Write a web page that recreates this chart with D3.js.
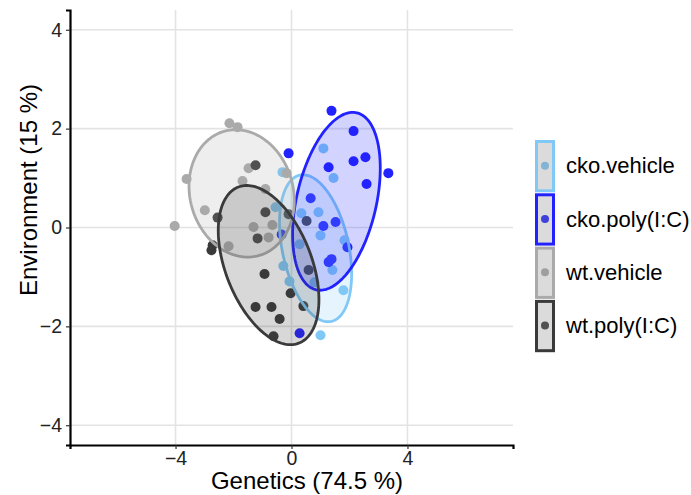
<!DOCTYPE html>
<html>
<head>
<meta charset="utf-8">
<script src="https://cdn.jsdelivr.net/npm/d3@7"></script>
<style>
  body { margin: 0; background: #fff; }
  svg { display: block; font-family: "Liberation Sans", Arial, sans-serif; }
</style>
</head>
<body>
<div id="chart"></div>
<script>
// PCA-style scatter: four groups with confidence ellipses.

const groups = ["cko.vehicle", "cko.poly(I:C)", "wt.vehicle", "wt.poly(I:C)"];
const groupColors = ["#80C9F7", "#2222FF", "#AAAAAA", "#3A3A3A"];

const xTicks = [-4, 0, 4];
const yTicks = [-4, -2, 0, 2, 4];

// points [x, y] per group
const ckoVehicle = [
  [1.10, 1.60], [1.45, 1.00], [-0.31, 1.12], [-0.55, 0.41], [0.34, 0.29],
  [0.93, 0.31], [1.00, -0.16], [0.28, -0.34], [-0.28, -0.78], [-0.07, -1.09],
  [0.79, -1.11], [1.41, -0.86], [1.83, -0.26], [1.79, -1.27], [1.00, -2.18]
];
const ckoPoly = [
  [-0.10, 1.50], [1.38, 2.36], [2.14, 1.95], [2.14, 1.34], [2.55, 1.42],
  [3.34, 1.10], [2.59, 0.88], [1.28, 1.22], [0.66, 0.59], [1.10, 0.03],
  [1.52, 0.11], [-0.34, -0.14], [1.28, -0.70], [1.38, -0.64], [1.93, -0.40],
  [0.28, -2.14]
];
const wtVehicle = [
  [-2.14, 2.11], [-1.86, 2.03], [-3.62, 0.98], [-4.03, 0.03], [-2.99, 0.35],
  [-1.69, 0.94], [-1.48, 1.20], [-0.17, 1.10], [-0.90, 0.78], [-1.31, 0.01],
  [-0.66, 0.05], [-0.79, -0.20], [-2.17, -0.38]
];
const wtPoly = [
  [-1.24, 1.26], [-2.55, 0.20], [-2.72, -0.36], [-2.76, -0.46], [-0.90, 0.31],
  [-1.17, -0.22], [-0.10, 0.27], [0.52, 0.13], [-0.93, -0.94], [0.59, -0.86],
  [-1.24, -1.61], [-0.69, -1.61], [-0.41, -1.85], [-0.62, -2.20], [-0.03, -1.33],
  [0.41, -1.59]
];
const groupPoints = [ckoVehicle, ckoPoly, wtVehicle, wtPoly];

// ellipses: centre and two semi-axis vectors, in data units
const ellipseCenter = [[0.83, -0.42], [1.55, 0.53], [-1.72, 0.69], [-0.79, -0.76]];
const ellipseAxisA  = [[-0.54, 1.48], [0.70, 1.79], [-0.58, 1.26], [-1.04, 1.58]];
const ellipseAxisB  = [[1.12, 0.14], [1.34, -0.18], [1.72, 0.27], [1.39, 0.31]];

const W = 691, H = 495;
const margin = { top: 10, right: 178, bottom: 50, left: 70 };

const svg = d3.select("#chart").append("svg").attr("width", W).attr("height", H);

const x = d3.scaleLinear().domain([-7.64, 7.64]).range([margin.left, W - margin.right]);
const y = d3.scaleLinear().domain([-4.4, 4.4]).range([H - margin.bottom, margin.top]);

// grid
const gGrid = svg.append("g").attr("stroke", "#E3E3E3").attr("stroke-width", 1.6);
gGrid.selectAll("line.gx").data(xTicks).join("line")
    .attr("x1", d => x(d)).attr("x2", d => x(d))
    .attr("y1", y.range()[0]).attr("y2", y.range()[1]);
gGrid.selectAll("line.gy").data(yTicks).join("line")
    .attr("y1", d => y(d)).attr("y2", d => y(d))
    .attr("x1", x.range()[0]).attr("x2", x.range()[1]);

// points (ellipses are drawn over them)
const gPts = svg.append("g");
groups.forEach((g, i) => {
  gPts.selectAll(null).data(groupPoints[i]).join("circle")
      .attr("cx", d => x(d[0])).attr("cy", d => y(d[1]))
      .attr("r", 5).attr("fill", groupColors[i]);
});

// ellipses
const ts = d3.range(0, 2 * Math.PI, Math.PI / 90);
const ellLine = d3.line().x(d => x(d[0])).y(d => y(d[1])).curve(d3.curveLinearClosed);
const gEll = svg.append("g");
groups.forEach((g, i) => {
  const c = ellipseCenter[i], a = ellipseAxisA[i], b = ellipseAxisB[i];
  const pts = ts.map(t => [
    c[0] + a[0] * Math.cos(t) + b[0] * Math.sin(t),
    c[1] + a[1] * Math.cos(t) + b[1] * Math.sin(t)
  ]);
  gEll.append("path")
      .attr("d", ellLine(pts))
      .attr("fill", groupColors[i]).attr("fill-opacity", 0.2)
      .attr("stroke", groupColors[i]).attr("stroke-width", 2.8);
});

// axes
const gX = svg.append("g").attr("transform", `translate(0,${y.range()[0]})`)
    .call(d3.axisBottom(x).tickValues(xTicks).tickSize(4).tickPadding(2).tickFormat(d3.format("d")));
const gY = svg.append("g").attr("transform", `translate(${x.range()[0]},0)`)
    .call(d3.axisLeft(y).tickValues(yTicks).tickSize(4).tickPadding(4).tickFormat(d3.format("d")));
[gX, gY].forEach(g => {
  g.select(".domain").attr("stroke", "#000").attr("stroke-width", 2.2);
  g.selectAll(".tick line").attr("stroke", "#333").attr("stroke-width", 1.2);
  g.selectAll(".tick text").attr("fill", "#222").attr("font-size", 19.5)
    .attr("font-family", "Liberation Sans, Arial, sans-serif");
});

svg.append("text")
    .attr("x", 307).attr("y", 489)
    .attr("text-anchor", "middle").attr("font-size", 24).attr("fill", "#000")
    .text("Genetics (74.5 %)");
svg.append("text")
    .attr("transform", "translate(37,190) rotate(-90)")
    .attr("text-anchor", "middle").attr("font-size", 24).attr("fill", "#000")
    .text("Environment (15 %)");

// legend
const gLeg = svg.append("g").attr("transform", "translate(535,139)");
const keyH = 53.3;
const items = gLeg.selectAll("g").data(groups).join("g")
    .attr("transform", (d, i) => `translate(0,${i * keyH})`);
items.append("circle").attr("cx", 10).attr("cy", keyH / 2).attr("r", 4)
    .attr("fill", (d, i) => groupColors[i]);
items.append("rect").attr("x", 1.5).attr("y", 2.5).attr("width", 17).attr("height", keyH - 4)
    .attr("fill", "#888").attr("fill-opacity", 0.3)
    .attr("stroke", (d, i) => groupColors[i]).attr("stroke-width", 3);
items.append("text").attr("x", 31).attr("y", keyH / 2).attr("dy", "0.35em")
    .attr("font-size", 22).attr("fill", "#000").text(d => d);
</script>
</body>
</html>
